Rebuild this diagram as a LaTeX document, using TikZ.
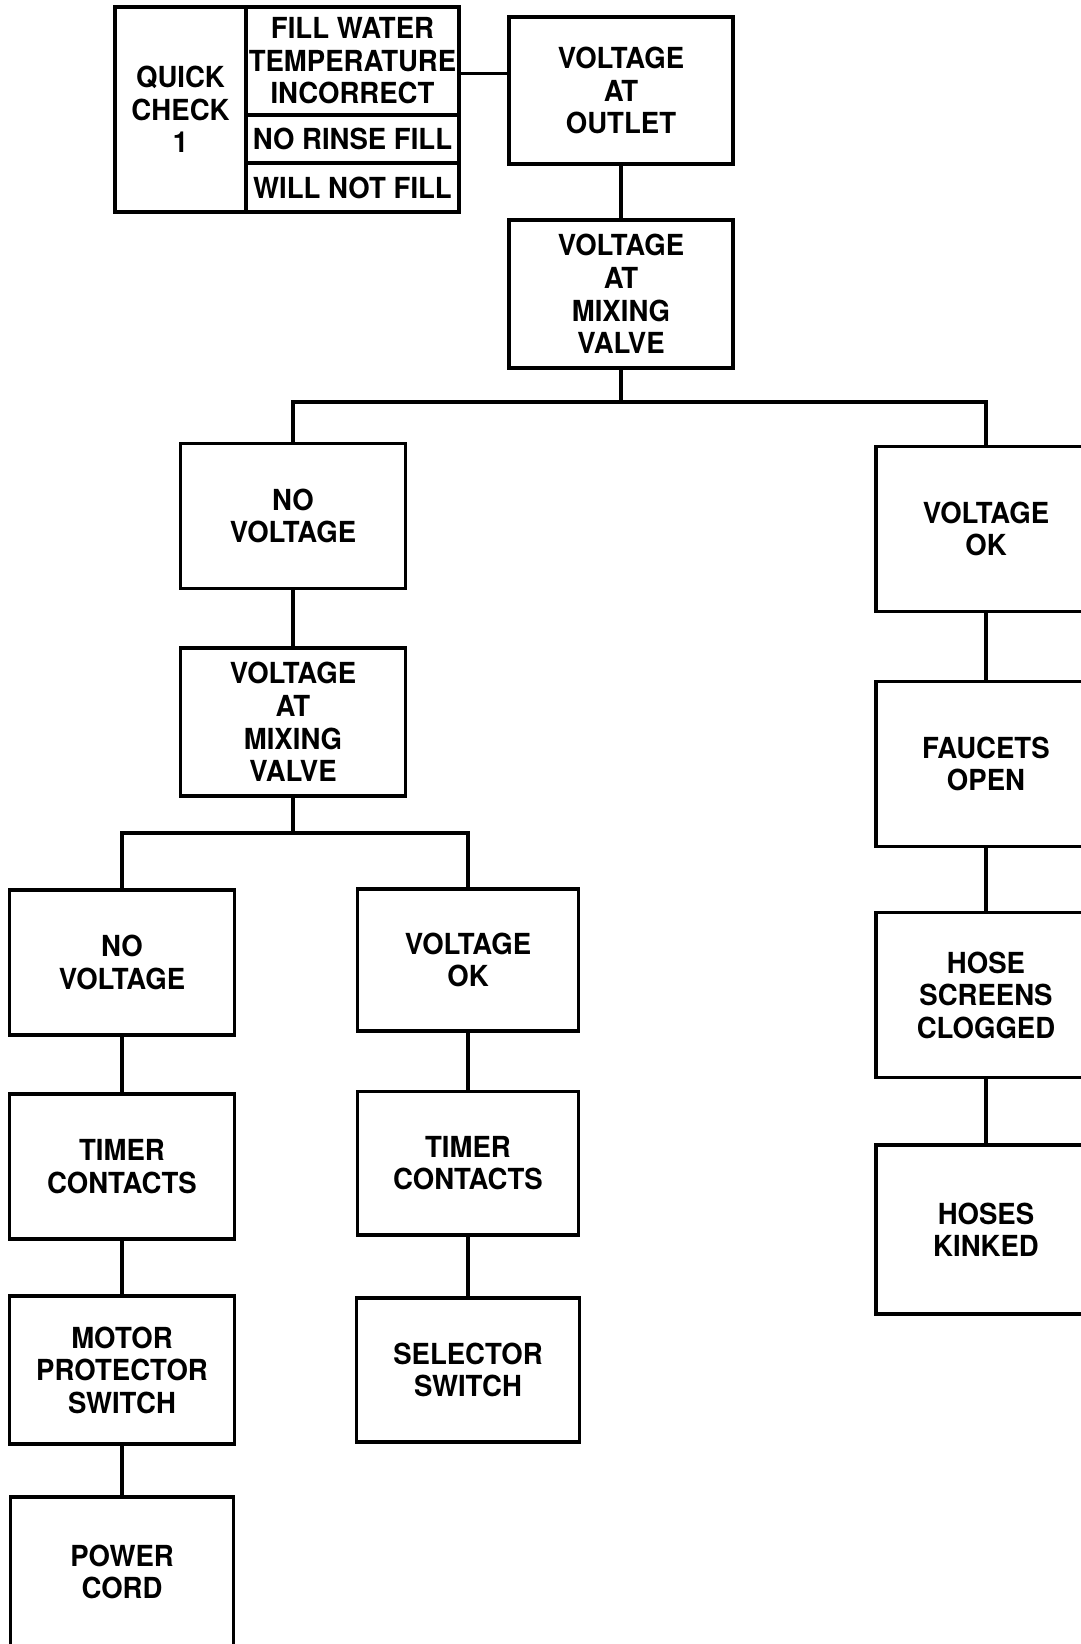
\documentclass[tikz,border=0pt]{standalone}
\usepackage{fontspec}
\setmainfont{TeX Gyre Heros}[FakeStretch=0.95]
\usetikzlibrary{positioning}
\tikzset{
  chk/.style  = {draw, line width=2pt, inner sep=1pt,
                 minimum width=4.5cm, minimum height=2.9cm,
                 align=center, font=\fontsize{16.5}{18.5}\selectfont\bfseries},
  tall/.style = {minimum width=4.4cm, minimum height=3.3cm},
  cell/.style = {chk, inner xsep=0pt, minimum width=4.26cm},
  wire/.style = {line width=2pt},
}

\begin{document}
\begin{tikzpicture}[x=0.02cm, y=-0.02cm]
        \useasboundingbox (0,0) rectangle (1081,1644);
        \clip (0,0) rectangle (1081,1644);
        % -- Quick check table -----------------------------------------
        \node[chk, minimum width=2.62cm, minimum height=4.1cm]
            (quick) at (180.5,109.5) {QUICK\\CHECK\\1};
        \node[cell, minimum height=2.16cm] (fill) at (352.5,61)
            {FILL WATER\\TEMPERATURE\\INCORRECT};
        \node[cell, minimum height=0.96cm] (rinse) at (352.5,139) {NO RINSE FILL};
        \node[cell, minimum height=0.98cm] (nofill) at (352.5,187.5) {WILL NOT FILL};

        % -- Top of the chart ------------------------------------------
        \node[chk, minimum width=4.48cm, minimum height=2.94cm]
            (outlet) at (621,90.5) {VOLTAGE\\AT\\OUTLET};
        \node[chk, minimum width=4.48cm, minimum height=2.96cm]
            (mixtop) at (621,294) {VOLTAGE\\AT\\MIXING\\VALVE};
        \draw[wire] ([yshift=-7pt]fill.east) -- ([yshift=-7pt]fill.east -| outlet.west);
        \draw[wire] (outlet) -- (mixtop);

        % -- Left branch -----------------------------------------------
        \node[chk] (novolt1) at (293,516) {NO\\VOLTAGE};
        \node[chk, minimum height=2.96cm] (mixlow) at (293,722) {VOLTAGE\\AT\\MIXING\\VALVE};
        \node[chk] (novolt2) at (122,962.5) {NO\\VOLTAGE};
        \node[chk, minimum width=4.42cm, minimum height=2.84cm] (voltok2) at (468,960) {VOLTAGE\\OK};
        \node[chk] (timer1) at (122,1166.5) {TIMER\\CONTACTS};
        \node[chk, minimum width=4.42cm, minimum height=2.87cm] (timer2) at (468,1163) {TIMER\\CONTACTS};
        \node[chk, minimum height=2.96cm] (motor) at (122,1370) {MOTOR\\PROTECTOR\\SWITCH};
        \node[chk, minimum width=4.47cm, minimum height=2.88cm] (selector) at (468,1370) {SELECTOR\\SWITCH};
        \node[chk, minimum width=4.47cm, minimum height=3cm] (power) at (122,1572) {POWER\\CORD};

        % -- Right branch ----------------------------------------------
        \node[chk, tall] (voltok1) at (986,529) {VOLTAGE\\OK};
        \node[chk, tall] (faucets) at (986,764) {FAUCETS\\OPEN};
        \node[chk, tall] (screens) at (986,995) {HOSE\\SCREENS\\CLOGGED};
        \node[chk, tall, minimum height=3.38cm] (kinked) at (986,1229.5) {HOSES\\KINKED};

        % -- Connectors ------------------------------------------------
        \draw[wire] (mixtop.south) -- ++(0,32.5) -| (novolt1.north);
        \draw[wire] (mixtop.south) -- ++(0,32.5) -| (voltok1.north);
        \draw[wire] (novolt1) -- (mixlow);
        \draw[wire] (mixlow.south) -- ++(0,35.5) -| (novolt2.north);
        \draw[wire] (mixlow.south) -- ++(0,35.5) -| (voltok2.north);
        \draw[wire] (novolt2) -- (timer1);
        \draw[wire] (timer1) -- (motor);
        \draw[wire] (motor) -- (power);
        \draw[wire] (voltok2) -- (timer2);
        \draw[wire] (timer2) -- (selector);
        \draw[wire] (voltok1) -- (faucets);
        \draw[wire] (faucets) -- (screens);
        \draw[wire] (screens) -- (kinked);
    \end{tikzpicture}
\end{document}
